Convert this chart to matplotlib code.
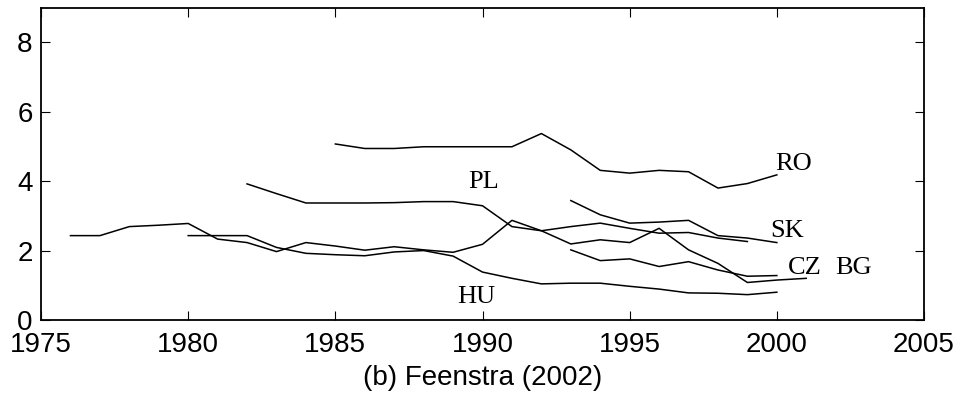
import matplotlib
matplotlib.use("Agg")
import matplotlib.pyplot as plt

# values (share of ... by year)
years_ro = [1985, 1986, 1987, 1988, 1989, 1990, 1991, 1992, 1993, 1994, 1995, 1996, 1997, 1998, 1999, 2000]
ro = [5.07, 4.94, 4.94, 4.99, 4.99, 4.99, 4.99, 5.37, 4.90, 4.31, 4.23, 4.31, 4.27, 3.80, 3.93, 4.18]

years_pl = [1982, 1983, 1984, 1985, 1986, 1987, 1988, 1989, 1990, 1991, 1992, 1993, 1994, 1995, 1996, 1997, 1998, 1999]
pl = [3.92, 3.64, 3.37, 3.37, 3.37, 3.38, 3.41, 3.41, 3.29, 2.69, 2.57, 2.69, 2.79, 2.64, 2.50, 2.52, 2.36, 2.26]

years_bg = [1976, 1977, 1978, 1979, 1980, 1981, 1982, 1983, 1984, 1985, 1986, 1987, 1988, 1989,
            1990, 1991, 1992, 1993, 1994, 1995, 1996, 1997, 1998, 1999, 2000, 2001]
bg = [2.43, 2.43, 2.69, 2.73, 2.78, 2.33, 2.23, 1.97, 2.23, 2.13, 2.01, 2.11, 2.02, 1.95,
      2.18, 2.87, 2.57, 2.19, 2.31, 2.23, 2.64, 2.02, 1.63, 1.08, 1.15, 1.20]

years_hu = [1980, 1981, 1982, 1983, 1984, 1985, 1986, 1987, 1988, 1989, 1990,
            1991, 1992, 1993, 1994, 1995, 1996, 1997, 1998, 1999, 2000]
hu = [2.43, 2.43, 2.43, 2.09, 1.92, 1.88, 1.85, 1.96, 2.00, 1.84, 1.38,
      1.20, 1.04, 1.06, 1.06, 0.97, 0.89, 0.78, 0.77, 0.73, 0.80]

years_sk = [1993, 1994, 1995, 1996, 1997, 1998, 1999, 2000]
sk = [3.44, 3.03, 2.79, 2.82, 2.87, 2.43, 2.36, 2.23]

years_cz = [1993, 1994, 1995, 1996, 1997, 1998, 1999, 2000]
cz = [2.02, 1.71, 1.76, 1.54, 1.68, 1.44, 1.26, 1.28]

labels = ["RO", "PL", "SK", "CZ", "BG", "HU"]
label_x = [1999.94, 1989.51, 1999.77, 2000.38, 2001.98, 1989.13]
label_y = [4.33, 3.81, 2.39, 1.33, 1.33, 0.49]

fig = plt.figure(figsize=(9.59, 3.97), dpi=100)
ax = fig.add_axes([0.0428, 0.194, 0.9207, 0.787])

for xs, ys in [(years_ro, ro), (years_pl, pl), (years_bg, bg),
               (years_hu, hu), (years_sk, sk), (years_cz, cz)]:
    ax.plot(xs, ys, color="black", lw=1.1)

for lab, lx, ly in zip(labels, label_x, label_y):
    ax.text(lx, ly, lab, family="Liberation Serif", fontsize=19,
            ha="left", va="baseline")

ax.set_xlim(1975, 2005)
ax.set_ylim(0, 9)
ax.set_xticks([1975, 1980, 1985, 1990, 1995, 2000, 2005])
ax.set_yticks([0, 2, 4, 6, 8])
ax.tick_params(direction="in", length=6.5, width=0.8, top=True, right=True,
               labelsize=20)
ax.tick_params(axis="x", pad=9)
ax.tick_params(axis="y", pad=6)
for lab in ax.get_xticklabels() + ax.get_yticklabels():
    lab.set_family("Liberation Sans")
for s in ax.spines.values():
    s.set_linewidth(1.3)

ax.set_xlabel("(b) Feenstra (2002)", family="Liberation Sans", fontsize=20, labelpad=5)

fig.savefig("out.png", dpi=100)
